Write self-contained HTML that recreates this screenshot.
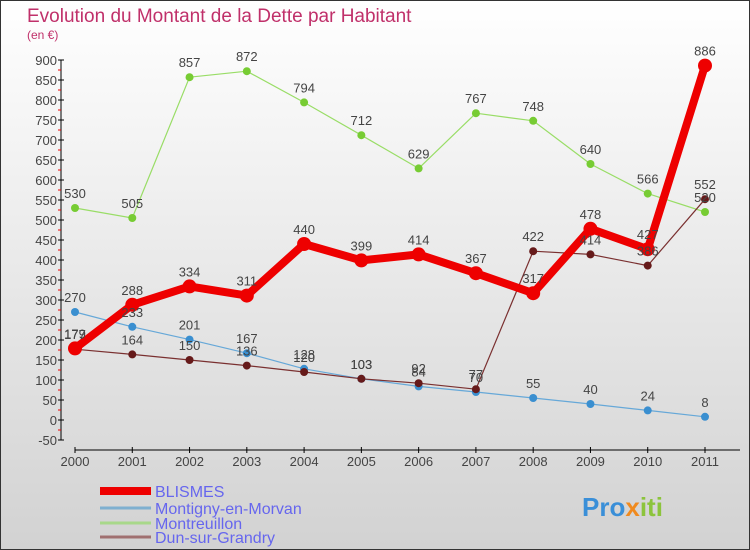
<!DOCTYPE html>
<html><head><meta charset="utf-8"><style>
body{margin:0;}
#wrap{width:750px;height:550px;position:relative;overflow:hidden;font-family:"Liberation Sans",sans-serif;}
</style></head><body>
<div id="wrap">
<svg id="chart" width="750" height="550" xmlns="http://www.w3.org/2000/svg">
<defs><linearGradient id="bg" x1="0" y1="0" x2="0" y2="1"><stop offset="0" stop-color="#ffffff"/><stop offset="1" stop-color="#d2d2d2"/></linearGradient></defs>
<rect x="0.5" y="0.5" width="749" height="549" fill="url(#bg)" stroke="#333"/>
<text x="27" y="22" font-size="19" fill="#c0306a">Evolution du Montant de la Dette par Habitant</text>
<text x="27" y="39" font-size="12" fill="#c0306a">(en €)</text>
<g id="axes"></g><g id="series"></g><g id="labels"></g><g id="legend"></g>
<text x="582" y="516" font-size="26" font-weight="bold" fill="#3a8fd8">Pro<tspan fill="#f08a1e">x</tspan><tspan fill="#8cc43c">iti</tspan></text>
</svg></div>
<script>
const years=[2000,2001,2002,2003,2004,2005,2006,2007,2008,2009,2010,2011];
const blismes=[179,288,334,311,440,399,414,367,317,478,427,886];
const montigny=[270,233,201,167,128,103,84,70,55,40,24,8];
const montreuillon=[530,505,857,872,794,712,629,767,748,640,566,520];
const dun=[177,164,150,136,120,103,92,77,422,414,386,552];
const yTicks=[-50,0,50,100,150,200,250,300,350,400,450,500,550,600,650,700,750,800,850,900];
const seriesNames=["BLISMES","Montigny-en-Morvan","Montreuillon","Dun-sur-Grandry"];
const NS="http://www.w3.org/2000/svg";
const xs=i=>75+i*(630/11);
const ys=v=>420-v*0.4;
function mk(tag,attrs,parent){const e=document.createElementNS(NS,tag);for(const k in attrs)e.setAttribute(k,attrs[k]);parent.appendChild(e);return e;}
const axes=document.getElementById('axes'),ser=document.getElementById('series'),lab=document.getElementById('labels'),leg=document.getElementById('legend');
let a=mk('line',{x1:61,y1:60,x2:61,y2:440,stroke:'#000'},axes);


a=mk('line',{x1:75,y1:450,x2:740,y2:450,stroke:'#000'},axes);


yTicks.forEach(v=>{
 const y=ys(v);
 let t=mk('line',{x1:58,y1:y,x2:64,y2:y,stroke:'#000'},axes);
 
 
 if(v<900){let m=mk('line',{x1:58,y1:y-10,x2:61,y2:y-10,stroke:'#e00'},axes);
 
 }
 let l=mk('text',{x:57,y:y+5,'font-size':13,fill:'#444','text-anchor':'end'},axes);l.textContent=v;
 
 
});
years.forEach((yr,i)=>{
 const x=xs(i);
 let t=mk('line',{x1:x,y1:447,x2:x,y2:453,stroke:'#000'},axes);
 
 
 let l=mk('text',{x:x,y:466,'font-size':13,fill:'#444','text-anchor':'middle'},axes);l.textContent=yr;
 
 
});
function drawSeries(vals,color,dot,w,r,name){
 const pts=vals.map((v,i)=>xs(i)+','+ys(v)).join(' ');
 let p=mk('polyline',{points:pts,fill:'none',stroke:color,'stroke-width':w,'stroke-linejoin':'round'},ser);
 
 
 vals.forEach((v,i)=>{
  let c=mk('circle',{cx:xs(i),cy:ys(v),r:r,fill:dot},ser);
  
  
  let t=mk('text',{x:xs(i),y:ys(v)-10,'font-size':13,fill:'#444','text-anchor':'middle'},lab);t.textContent=v;
  
  
 });
}
drawSeries(montreuillon,'#99dd66','#77cc33',1.2,4,'montreuillon');
drawSeries(montigny,'#66a8d8','#3a8fd0',1.2,4,'montigny');
drawSeries(dun,'#7a3030','#661a1a',1.2,4,'dun-sur-grandry');
drawSeries(blismes,'#ee0000','#ee0000',8,7,'blismes');
const legColors=['#ee0000','#7fb0d0','#a8d88a','#a07070'];
const legW=[8,3,3,3];
const legY=[491,508,523,537];
seriesNames.forEach((n,i)=>{
 let l=mk('line',{x1:100,y1:legY[i],x2:151,y2:legY[i],stroke:legColors[i],'stroke-width':legW[i]},leg);
 
 
 let t=mk('text',{x:155,y:legY[i]+6,'font-size':16,fill:'#6666ee'},leg);t.textContent=n;
 
 
});
</script>
</body></html>
